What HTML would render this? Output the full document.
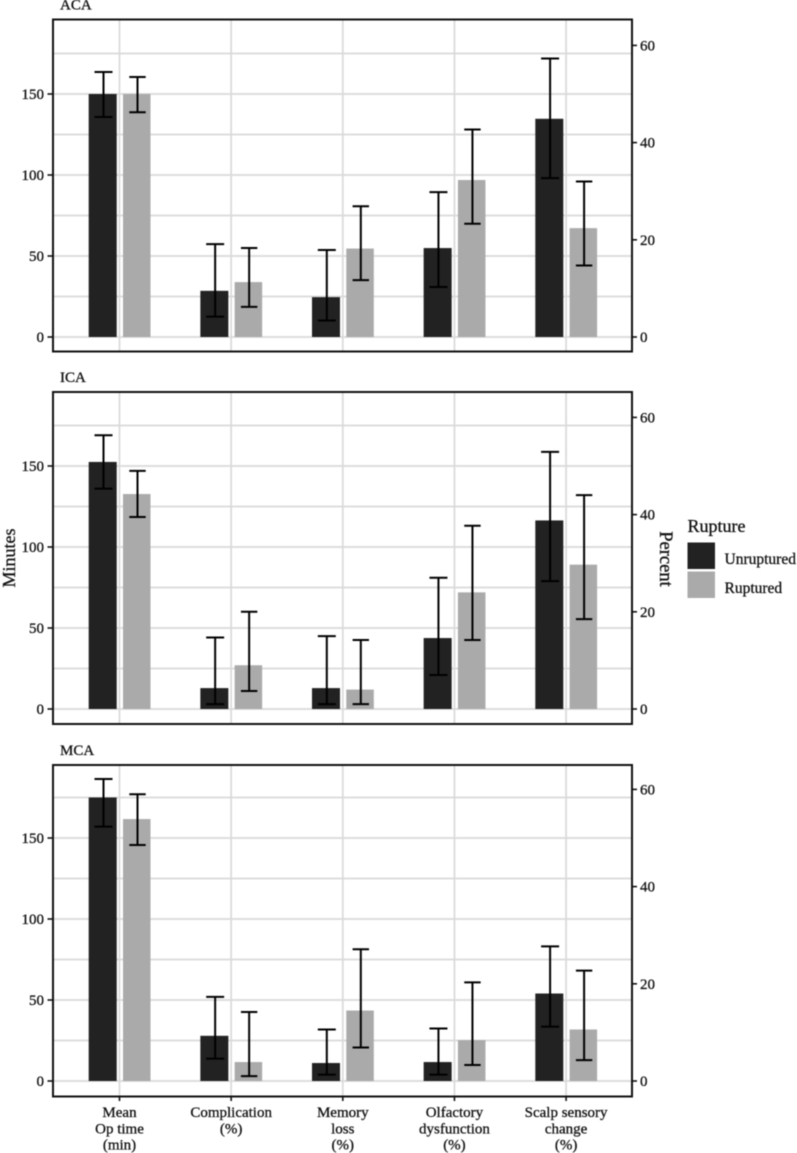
<!DOCTYPE html>
<html lang="en">
<head>
<meta charset="utf-8">
<title>Outcomes by aneurysm location and rupture status</title>
<style>
html,body{margin:0;padding:0;background:#fff;}
body{width:797px;height:1153px;overflow:hidden;}
svg{display:block;filter:blur(0.4px);}
text{font-family:"Liberation Serif",serif;fill:#111;stroke:#111;stroke-width:0.3px;}
</style>
</head>
<body>
<svg id="chart" xmlns="http://www.w3.org/2000/svg" width="797" height="1153" viewBox="0 0 797 1153"></svg>
<script>
const categoryLabels = [["Mean","Op time","(min)"],["Complication","(%)"],["Memory","loss","(%)"],["Olfactory","dysfunction","(%)"],["Scalp sensory","change","(%)"]];
const categorySlugs = ["op-time","complication","memory-loss","olfactory-dysfunction","scalp-sensory-change"];
const panelTitles = ["ACA","ICA","MCA"];
const minuteTicks = [0,50,100,150];
const minuteGridlines = [0,25,50,75,100,125,150,175];
const percentTicks = [0,20,40,60];

// First value of every series is minutes (left axis); the rest are percent (right axis).
const acaUnruptured = [150,9.5,8.2,18.3,44.9];
const acaUnrupturedHigh = [163.6,19.1,17.9,29.8,57.3];
const acaUnrupturedLow = [135.8,4.2,3.4,10.3,32.7];
const acaRuptured = [150,11.3,18.2,32.3,22.4];
const acaRupturedHigh = [160.5,18.3,26.9,42.7,32];
const acaRupturedLow = [138.7,6.2,11.7,23.3,14.7];

const icaUnruptured = [152.5,4.3,4.3,14.6,38.8];
const icaUnrupturedHigh = [169,14.7,15,27,52.9];
const icaUnrupturedLow = [136,1,1,7,26.3];
const icaRuptured = [132.7,9,4,24,29.7];
const icaRupturedHigh = [147,20,14.2,37.7,44];
const icaRupturedLow = [118.5,3.7,1,14.2,18.5];

const mcaUnruptured = [175,9.3,3.7,3.9,18];
const mcaUnrupturedHigh = [186.4,17.3,10.6,10.8,27.7];
const mcaUnrupturedLow = [157,4.6,1.3,1.3,11.2];
const mcaRuptured = [161.7,3.9,14.5,8.4,10.6];
const mcaRupturedHigh = [177,14.2,27.1,20.3,22.7];
const mcaRupturedLow = [145.7,1,6.9,3.3,4.3];

const panelSeries = [
  [acaUnruptured,acaUnrupturedHigh,acaUnrupturedLow,acaRuptured,acaRupturedHigh,acaRupturedLow],
  [icaUnruptured,icaUnrupturedHigh,icaUnrupturedLow,icaRuptured,icaRupturedHigh,icaRupturedLow],
  [mcaUnruptured,mcaUnrupturedHigh,mcaUnrupturedLow,mcaRuptured,mcaRupturedHigh,mcaRupturedLow]
];

const svg = document.getElementById('chart');
const NS = 'http://www.w3.org/2000/svg';
const LEFT = 53, RIGHT = 632;
const frameTops = [19.5,392,765];
const frameBottoms = [351.5,724,1096.5];
const zeros = [337,709,1081];
const MIN_PX = 1.62, PCT_PX = 4.86;
const DARK = '#222222', LIGHT = '#aaaaaa', GRID = '#d9d9d9', INK = '#111111';

function xCat(i){ return 119.5 + i * 111.65; }
function yMinutes(z,v){ return z - v * MIN_PX; }
function yPercent(z,v){ return z - v * PCT_PX; }
function yValue(z,i,v){ return i === 0 ? yMinutes(z,v) : yPercent(z,v); }

function make(tag,attrs,parent){
  const el = document.createElementNS(NS,tag);
  for(const k in attrs){ el.setAttribute(k,attrs[k]); }
  (parent || svg).appendChild(el);
  return el;
}

function drawErrorBar(g,x,capHalf,hi,lo,name){
  const eg = make('g',{},g);
  
  
  make('line',{x1:x,x2:x,y1:hi,y2:lo,stroke:'#000',"stroke-width":2},eg);
  make('line',{x1:x-capHalf,x2:x+capHalf,y1:hi,y2:hi,stroke:'#000',"stroke-width":2},eg);
  make('line',{x1:x-capHalf,x2:x+capHalf,y1:lo,y2:lo,stroke:'#000',"stroke-width":2},eg);
}

panelTitles.forEach(function(title,p){
  const z = zeros[p], top = frameTops[p], bottom = frameBottoms[p];
  const slug = title.toLowerCase();
  const g = make('g',{});
  
  

  const t = make('text',{x:60,y:top-10,"font-size":15,"font-weight":"normal"},g);
  t.textContent = title;
  
  

  minuteGridlines.forEach(function(v){
    const gl = make('line',{x1:LEFT,x2:RIGHT,y1:yMinutes(z,v),y2:yMinutes(z,v),stroke:GRID,"stroke-width":1.7},g);
    
    
  });
  categorySlugs.forEach(function(c,i){
    const gl = make('line',{x1:xCat(i),x2:xCat(i),y1:top,y2:bottom,stroke:GRID,"stroke-width":1.7},g);
    
    
  });

  const s = panelSeries[p];
  categorySlugs.forEach(function(c,i){
    const x = xCat(i);
    const yd = yValue(z,i,s[0][i]);
    const barD = make('rect',{x:x-30.8,y:yd,width:28,height:z-yd,fill:DARK},g);
    
    
    const yl = yValue(z,i,s[3][i]);
    const barL = make('rect',{x:x+3.5,y:yl,width:27.5,height:z-yl,fill:LIGHT},g);
    
    
    drawErrorBar(g,x-16,9,yValue(z,i,s[1][i]),yValue(z,i,s[2][i]),'error-bar-' + slug + '-unruptured-' + c);
    drawErrorBar(g,x+18,8.2,yValue(z,i,s[4][i]),yValue(z,i,s[5][i]),'error-bar-' + slug + '-ruptured-' + c);
  });

  const frame = make('rect',{x:LEFT,y:top,width:RIGHT-LEFT,height:bottom-top,fill:'none',stroke:INK,"stroke-width":2},g);
  
  

  minuteTicks.forEach(function(v){
    const y = yMinutes(z,v);
    make('line',{x1:47.5,x2:LEFT,y1:y,y2:y,stroke:INK,"stroke-width":1.6},g);
    const l = make('text',{x:44,y:y+5,"font-size":15,"text-anchor":"end"},g);
    l.textContent = v;
    
    
  });
  percentTicks.forEach(function(v){
    const y = yPercent(z,v);
    make('line',{x1:RIGHT,x2:RIGHT+5,y1:y,y2:y,stroke:INK,"stroke-width":1.6},g);
    const l = make('text',{x:640,y:y+5,"font-size":15},g);
    l.textContent = v;
    
    
  });
});

categoryLabels.forEach(function(lines,i){
  const x = xCat(i);
  make('line',{x1:x,x2:x,y1:1096.5,y2:1101,stroke:INK,"stroke-width":1.6});
  const l = make('text',{"font-size":15,"text-anchor":"middle"});
  
  
  lines.forEach(function(line,j){
    const sp = make('tspan',{x:x,y:1117 + j * 16.3},l);
    sp.textContent = line;
  });
});

const leftTitle = make('text',{x:0,y:0,"font-size":18,"text-anchor":"middle",transform:"translate(15,558) rotate(-90)"});
leftTitle.textContent = 'Minutes';



const rightTitle = make('text',{x:0,y:0,"font-size":18.5,"text-anchor":"middle",transform:"translate(660,559) rotate(90)"});
rightTitle.textContent = 'Percent';



const legend = make('g',{});


const legendTitle = make('text',{x:687.5,y:532,"font-size":18},legend);
legendTitle.textContent = 'Rupture';



const swatchDark = make('rect',{x:687.5,y:542.5,width:27.5,height:26.5,fill:DARK},legend);


const swatchLight = make('rect',{x:687.5,y:571.5,width:27.5,height:26.5,fill:LIGHT},legend);


const labelDark = make('text',{x:724.5,y:564,"font-size":15.5},legend);
labelDark.textContent = 'Unruptured';


const labelLight = make('text',{x:724.5,y:593,"font-size":15.5},legend);
labelLight.textContent = 'Ruptured';


</script>
</body>
</html>
